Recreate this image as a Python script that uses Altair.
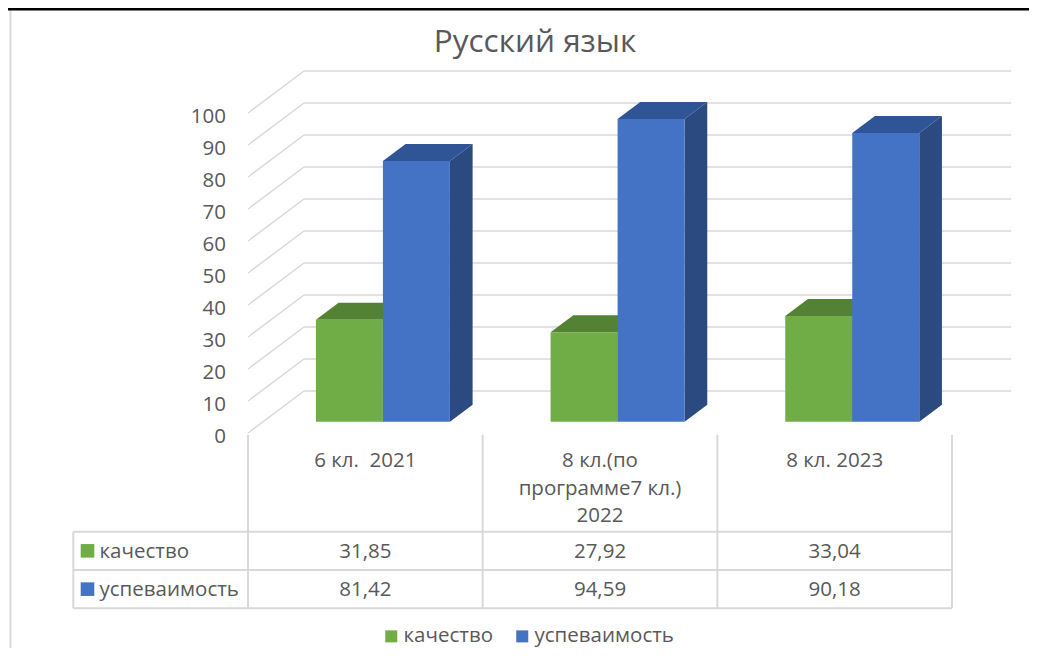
import altair as alt
import pandas as pd

# ---------------- data ----------------
title_text = "Русский язык"
categories = ["6 кл.  2021", "8 кл.(по\nпрограмме7 кл.)\n2022", "8 кл. 2023"]
series_names = ["качество", "успеваимость"]
kachestvo = [31.85, 27.92, 33.04]
uspevaimost = [81.42, 94.59, 90.18]
tick_values = [0, 10, 20, 30, 40, 50, 60, 70, 80, 90, 100]
tick_labels = ["0", "10", "20", "30", "40", "50", "60", "70", "80", "90", "100"]

# ---------------- styles ----------------
FRONT = ["#70AD47", "#4472C4"]
TOP = ["#548235", "#2F5597"]
SIDE = ["#4A7530", "#2A4A80"]
GRID = "#D9D9D9"
TEXT = "#595959"
FONT = "Open Sans"

# ---------------- layout (page pixels) ----------------
W, H = 1021, 640
PAGE = 8
CAT_W = 234.67          # width of one category on the front floor
X0 = 248                # page x of the first category edge (front)
Y0 = 433                # page y of value 0 (front)
K = 3.2                 # pixels per percent
DEPTH_DX, DEPTH_DY = 56, 42
D_FRONT, D_BACK = 0.27, 0.675
BAR_START, BAR_W = 0.225, 0.2855


def u(px):
    return (px - X0) / CAT_W


def v(py):
    return (Y0 - py) / K


def du(d):
    return DEPTH_DX * d / CAT_W


def dv(d):
    return DEPTH_DY * d / K


xs = alt.Scale(domain=[u(PAGE), u(PAGE + W)], nice=False, zero=False)
ys = alt.Scale(domain=[v(PAGE + H), v(PAGE)], nice=False, zero=False)


def X(f):
    return alt.X(f, type="quantitative", scale=xs, axis=None)


def Y(f):
    return alt.Y(f, type="quantitative", scale=ys, axis=None)


def seg_chart(rows, color, width):
    df = pd.DataFrame(rows, columns=["x", "y", "x2", "y2"])
    return alt.Chart(df).mark_rule(color=color, strokeWidth=width).encode(
        x=X("x"), y=Y("y"), x2=alt.X2("x2"), y2=alt.Y2("y2")
    )


n_cat = len(categories)
values = [kachestvo, uspevaimost]

# frame lines
border = seg_chart([[u(10.5), v(10), u(10.5), v(PAGE + H + 10)]], GRID, 2)
top_black = seg_chart([[u(PAGE), v(9), u(PAGE + W), v(9)]], "#000000", 3)

# back wall and side wall gridlines
back_rows = [[du(1), t + dv(1), n_cat + du(1) + 3 / CAT_W, t + dv(1)] for t in tick_values]
side_rows = [[0, t, du(1), t + dv(1)] for t in tick_values]
back_grid = seg_chart(back_rows, GRID, 1.5)
side_grid = seg_chart(side_rows, GRID, 1.5)

# data table lines
tbl_left = u(73.3)
row_lines = [531.7, 570, 608.3]
tbl_rows = [[i, v(435), i, v(row_lines[-1])] for i in range(n_cat + 1)]
tbl_rows += [[tbl_left, v(py), n_cat, v(py)] for py in row_lines]
tbl_rows += [[tbl_left, v(row_lines[0]), tbl_left, v(row_lines[-1])]]
table_lines = seg_chart(tbl_rows, GRID, 2)

# bars
front_rows, top_rows, side_rows_b = [], [], []
ddu = du(D_BACK - D_FRONT)
for i in range(n_cat):
    for s, name in enumerate(series_names):
        val = values[s][i]
        xl = i + BAR_START + s * BAR_W + du(D_FRONT)
        xr = xl + BAR_W
        yb_f, yt_f = dv(D_FRONT), val + dv(D_FRONT)
        yb_b, yt_b = dv(D_BACK), val + dv(D_BACK)
        fid = f"{i}-{s}"
        front_rows.append(dict(series=name, x0=xl, x1=xr, y0=yb_f, y1=yt_f))
        top_rows.append(dict(face=fid, col=TOP[s], y=yt_f, xlo=xl, xhi=xr))
        top_rows.append(dict(face=fid, col=TOP[s], y=yt_b, xlo=xl + ddu, xhi=xr + ddu))
        side_rows_b.append(dict(face=fid, col=SIDE[s], x=xr, ylo=yb_f, yhi=yt_f))
        side_rows_b.append(dict(face=fid, col=SIDE[s], x=xr + ddu, ylo=yb_b, yhi=yt_b))

sides = alt.Chart(pd.DataFrame(side_rows_b)).mark_area(orient="vertical").encode(
    x=X("x"), y=Y("yhi"), y2=alt.Y2("ylo"), detail="face:N",
    fill=alt.Fill("col:N", scale=None)
)
tops = alt.Chart(pd.DataFrame(top_rows)).mark_area(orient="horizontal").encode(
    y=Y("y"), x=X("xlo"), x2=alt.X2("xhi"), detail="face:N",
    fill=alt.Fill("col:N", scale=None)
)
fronts = alt.Chart(pd.DataFrame(front_rows)).mark_rect().encode(
    x=X("x0"), x2=alt.X2("x1"), y=Y("y0"), y2=alt.Y2("y1"),
    color=alt.Color(
        "series:N",
        scale=alt.Scale(domain=series_names, range=FRONT),
        legend=alt.Legend(
            title=None, orient="none", legendX=373, legendY=618,
            direction="horizontal", symbolType="square", symbolSize=144,
            symbolStrokeWidth=0, labelFont=FONT, labelFontSize=20.5,
            labelColor=TEXT, labelOffset=2, columnPadding=18, padding=0,
        ),
    ),
)

# texts
title = alt.Chart(pd.DataFrame([dict(x=u(535), y=v(52), t=title_text)])).mark_text(
    font=FONT, fontSize=31.5, color=TEXT, align="center", baseline="alphabetic"
).encode(x=X("x"), y=Y("y"), text="t:N")

ticks = alt.Chart(pd.DataFrame(dict(y=tick_values, t=tick_labels, x=[u(226)] * len(tick_values)))).mark_text(
    font=FONT, fontSize=20.5, color=TEXT, align="right", baseline="middle", dy=4
).encode(x=X("x"), y=Y("y"), text="t:N")

# keep repeated spaces visible in SVG text
cat_display = [c.replace("  ", " \u00a0") for c in categories]
cat_df = pd.DataFrame(dict(x=[i + 0.5 for i in range(n_cat)], y=[v(467)] * n_cat, t=cat_display))
cat_labels = alt.Chart(cat_df).mark_text(
    font=FONT, fontSize=20.5, color=TEXT, align="center", baseline="alphabetic",
    lineBreak="\n", lineHeight=27.5
).encode(x=X("x"), y=Y("y"), text="t:N")

row_centers = [v((row_lines[0] + row_lines[1]) / 2), v((row_lines[1] + row_lines[2]) / 2)]
rl_df = pd.DataFrame(dict(x=[u(99.5)] * 2, xs=[u(87.5)] * 2, y=row_centers, t=series_names, col=FRONT))
row_labels = alt.Chart(rl_df).mark_text(
    font=FONT, fontSize=20.5, color=TEXT, align="left", baseline="middle", dy=1
).encode(x=X("x"), y=Y("y"), text="t:N")
row_squares = alt.Chart(rl_df).mark_square(filled=True, size=185, opacity=1).encode(
    x=X("xs"), y=Y("y"), fill=alt.Fill("col:N", scale=None)
)

val_rows = []
for s in range(len(series_names)):
    for i in range(n_cat):
        val_rows.append(dict(x=i + 0.5, y=row_centers[s], t=f"{values[s][i]:.2f}".replace(".", ",")))
val_text = alt.Chart(pd.DataFrame(val_rows)).mark_text(
    font=FONT, fontSize=20.5, color=TEXT, align="center", baseline="middle", dy=1
).encode(x=X("x"), y=Y("y"), text="t:N")

chart = alt.layer(
    border, top_black, back_grid, side_grid, table_lines,
    sides, tops, fronts,
    title, ticks, cat_labels, row_labels, row_squares, val_text,
).properties(
    width=W, height=H, padding=0, autosize=alt.AutoSizeParams(type="none"),
    background="white",
).configure_view(strokeWidth=0)

chart.save("out.html", embed_options={"renderer": "svg", "actions": False})
